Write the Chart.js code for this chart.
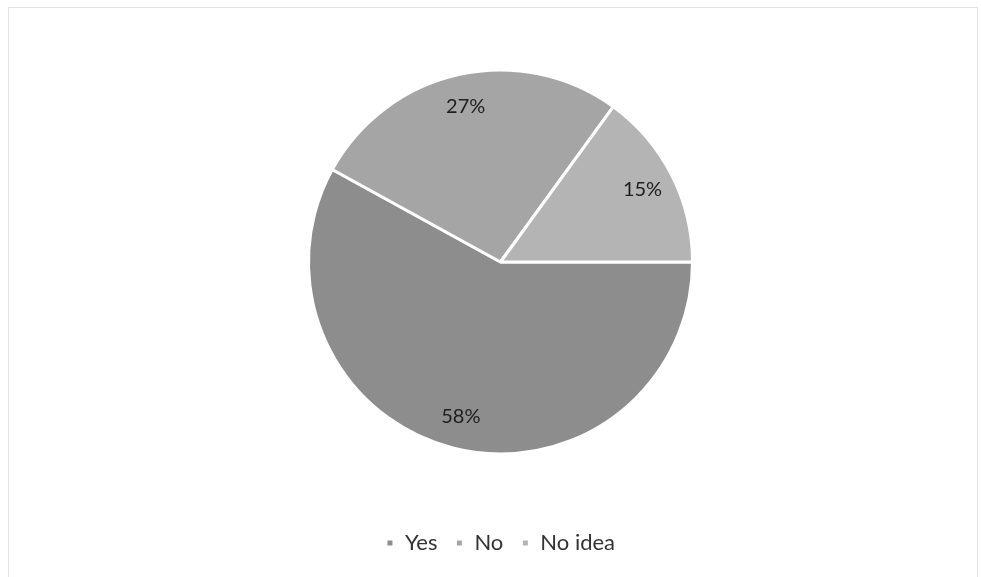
<!DOCTYPE html>
<html>
<head>
<meta charset="utf-8">
<script src="https://cdn.jsdelivr.net/npm/chart.js@4/dist/chart.umd.min.js"></script>
<style>
  html, body { margin: 0; padding: 0; background: #fff; }
  #wrap { width: 981px; height: 577px; position: relative; }
</style>
</head>
<body>
<div id="wrap"><canvas id="pie-chart"></canvas></div>
<script>
var labels = ['Yes', 'No', 'No idea']
var values = [58, 27, 15]
var colors = ['#8d8d8d', '#a5a5a5', '#b4b4b4']

// white page with the faint frame round the chart
var frame = {
  id: 'frame',
  beforeDraw: function (chart) {
    var c = chart.ctx
    c.save()
    c.fillStyle = '#fff'
    c.fillRect(0, 0, chart.width, chart.height)
    c.strokeStyle = '#e2e2e2'
    c.lineWidth = 1
    c.strokeRect(8.5, 7.5, 969, 580)
    c.restore()
  }
}

// percent labels inside each slice, near the outer edge
var sliceLabels = {
  id: 'sliceLabels',
  afterDatasetsDraw: function (chart) {
    var c = chart.ctx
    var meta = chart.getDatasetMeta(0)
    var total = values.reduce(function (a, b) { return a + b }, 0)
    c.save()
    c.font = '20px Lato'
    c.fillStyle = '#1e1e1e'
    c.textAlign = 'center'
    c.textBaseline = 'middle'
    meta.data.forEach(function (arc, i) {
      var mid = (arc.startAngle + arc.endAngle) / 2
      var r = arc.outerRadius * 0.83
      var x = arc.x + Math.cos(mid) * r
      var y = arc.y + Math.sin(mid) * r
      c.fillText(Math.round(values[i] / total * 100) + '%', x, y)
    })
    c.restore()
  }
}

new Chart(document.getElementById('pie-chart'), {
  type: 'pie',
  data: {
    labels: labels,
    datasets: [{
      data: values,
      backgroundColor: colors,
      borderColor: '#fff',
      borderWidth: 3
    }]
  },
  options: {
    responsive: true,
    maintainAspectRatio: false,
    animation: false,
    rotation: 90,
    radius: 192,
    layout: { padding: { top: 10, bottom: 13, left: 20 } },
    plugins: {
      tooltip: { enabled: false },
      legend: {
        position: 'bottom',
        labels: {
          boxWidth: 8,
          boxHeight: 8,
          padding: 18,
          color: '#333',
          font: { family: 'Lato', size: 22 }
        }
      }
    }
  },
  plugins: [frame, sliceLabels]
})
</script>
</body>
</html>
